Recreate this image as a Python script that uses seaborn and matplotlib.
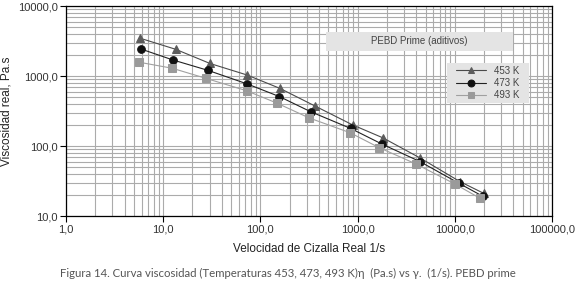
import numpy as np
import pandas as pd
import matplotlib.pyplot as plt
import matplotlib.ticker as mticker
from matplotlib.patches import Rectangle
import seaborn as sns

# Data (shear rate 1/s, viscosity Pa.s)
shear_453 = [5.8, 13.4, 30.3, 73.4, 159, 364, 890, 1817, 4390, 11300, 19950]
visc_453 = [3460, 2410, 1510, 1030, 665, 373, 200, 131, 67.5, 31, 21]

shear_473 = [5.9, 12.5, 29.1, 73.4, 157, 329, 850, 1770, 4390, 11000, 19600]
visc_473 = [2430, 1700, 1200, 769, 508, 309, 178, 107, 59.8, 29.4, 19.0]

shear_493 = [5.7, 12.4, 27.4, 72.3, 149, 319, 835, 1670, 4000, 10000, 18200]
visc_493 = [1570, 1290, 927, 615, 408, 251, 155, 94.6, 55.3, 28.7, 17.9]

labels = ['453 K', '473 K', '493 K']

df = pd.concat([
    pd.DataFrame({'shear': shear_453, 'visc': visc_453, 'temp': labels[0]}),
    pd.DataFrame({'shear': shear_473, 'visc': visc_473, 'temp': labels[1]}),
    pd.DataFrame({'shear': shear_493, 'visc': visc_493, 'temp': labels[2]}),
])

sns.set_style('white')
plt.rcParams['font.family'] = ['Liberation Sans', 'DejaVu Sans']

fig = plt.figure(figsize=(5.76, 2.86), dpi=100)
ax = fig.add_axes([66 / 576, 1 - 216 / 286, 486 / 576, 210 / 286])

colors = {'453 K': '#5c5c5c', '473 K': '#111111', '493 K': '#9a9a9a'}
line_colors = {'453 K': '#4a4a4a', '473 K': '#222222', '493 K': '#a0a0a0'}
markers = {'453 K': '^', '473 K': 'o', '493 K': 's'}

for lab in labels:
    sub = df[df['temp'] == lab]
    sns.lineplot(data=sub, x='shear', y='visc', ax=ax, color=line_colors[lab],
                 linewidth=0.8, marker=markers[lab], markersize=5.5,
                 markerfacecolor=colors[lab], markeredgecolor=colors[lab],
                 label=lab, sort=False, zorder=3)

ax.set_xscale('log')
ax.set_yscale('log')
ax.set_xlim(1, 100000)
ax.set_ylim(10, 10000)

fmt = mticker.FuncFormatter(lambda v, p: f'{v:.1f}'.replace('.', ','))
ax.xaxis.set_major_formatter(fmt)
ax.yaxis.set_major_formatter(fmt)
ax.xaxis.set_major_locator(mticker.LogLocator(base=10, numticks=10))
ax.yaxis.set_major_locator(mticker.LogLocator(base=10, numticks=10))
ax.xaxis.set_minor_locator(mticker.LogLocator(base=10, subs=np.arange(2, 10), numticks=20))
ax.yaxis.set_minor_locator(mticker.LogLocator(base=10, subs=np.arange(2, 10), numticks=20))
ax.xaxis.set_minor_formatter(mticker.NullFormatter())
ax.yaxis.set_minor_formatter(mticker.NullFormatter())

ax.grid(True, which='both', color='#ababab', linewidth=0.8)
ax.set_axisbelow(True)
for s in ax.spines.values():
    s.set_color('black')
    s.set_linewidth(0.9)

ax.tick_params(axis='both', which='major', direction='out', length=4, width=0.8,
               color='black', labelsize=8, labelcolor='#333333', pad=2,
               bottom=True, left=True)
ax.tick_params(axis='both', which='minor', length=0)

ax.set_xlabel('Velocidad de Cizalla Real 1/s', fontsize=8.5, color='#222222', labelpad=6)
ax.set_ylabel('Viscosidad real, Pa.s', fontsize=8.5, color='#222222', labelpad=4)

# title box inside the plot
ax.add_patch(Rectangle((0.535, 0.786), 0.385, 0.09, transform=ax.transAxes,
                       facecolor='#e4e4e4', edgecolor='none', zorder=4))
ax.text(0.7275, 0.831, 'PEBD Prime (aditivos)', transform=ax.transAxes,
        ha='center', va='center', fontsize=7, color='#444444', zorder=5)

# legend box
ax.add_patch(Rectangle((0.784, 0.538), 0.169, 0.191, transform=ax.transAxes,
                       facecolor='#e4e4e4', edgecolor='none', zorder=4))
leg = ax.legend(loc='center', bbox_to_anchor=(0.8685, 0.6335), frameon=False,
                fontsize=7, handlelength=3.0, handletextpad=0.9,
                borderpad=0.2, labelspacing=0.25, markerscale=0.9)
leg.set_zorder(6)
for t in leg.get_texts():
    t.set_color('#444444')

fig.text(0.5, 1 - 273 / 286,
         'Figura 14. Curva viscosidad (Temperaturas 453, 473, 493 K)η  (Pa.s) vs γ.  (1/s). PEBD prime',
         ha='center', va='center', fontsize=8.2, color='#555555',
         family=['Lato', 'DejaVu Sans'])

fig.savefig('out.png', dpi=100)
